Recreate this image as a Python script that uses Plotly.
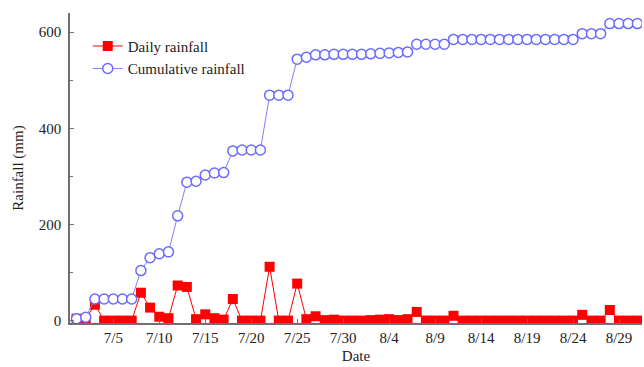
import pandas as pd
import plotly.graph_objects as go

# Dates 7/1 .. 8/31
dates = pd.date_range("2013-07-01", "2013-08-31", freq="D")

daily_rainfall = [
    4, 3, 33, 0, 0, 0, 0, 58, 27, 8,
    5, 73, 70, 3, 13, 5, 2, 45, 0, 0,
    0, 112, 0, 0, 77, 3, 9, 1, 2, 0,
    0, 0, 1, 2, 3, 1, 3, 18, 0, 0,
    0, 10, 0, 0, 0, 0, 0, 0, 0, 0,
    0, 0, 0, 0, 0, 12, 0, 0, 22, 0,
    0, 0,
]

cumulative_rainfall = [
    4, 7, 45, 45, 45, 45, 45, 104, 131, 139,
    143, 218, 288, 290, 303, 307, 308, 353, 355, 355,
    355, 469, 469, 469, 544, 548, 553, 553, 554, 554,
    554, 554, 555, 556, 557, 558, 559, 575, 575, 575,
    575, 585, 585, 585, 585, 585, 585, 585, 585, 585,
    585, 585, 585, 585, 585, 597, 597, 597, 618, 618,
    618, 618,
]

tick_dates = ["2013-07-05", "2013-07-10", "2013-07-15", "2013-07-20", "2013-07-25",
              "2013-07-30", "2013-08-04", "2013-08-09", "2013-08-14", "2013-08-19",
              "2013-08-24", "2013-08-29"]
tick_labels = ["7/5", "7/10", "7/15", "7/20", "7/25", "7/30", "8/4", "8/9",
               "8/14", "8/19", "8/24", "8/29"]

FONT = "Liberation Serif"
AXIS_COLOR = "#707070"

fig = go.Figure()
fig.add_trace(go.Scatter(
    x=dates, y=daily_rainfall, mode="lines+markers", name="Daily rainfall",
    line=dict(color="#ff0000", width=1),
    marker=dict(symbol="square", size=10, color="#ff0000", line=dict(width=0)),
))
fig.add_trace(go.Scatter(
    x=dates, y=cumulative_rainfall, mode="lines+markers", name="Cumulative rainfall",
    line=dict(color="#8080ff", width=1),
    marker=dict(symbol="circle", size=10, color="white", line=dict(color="#6b6bff", width=1.5)),
))

fig.update_layout(
    width=644, height=367,
    margin=dict(l=70, r=2, t=13, b=44),
    plot_bgcolor="white", paper_bgcolor="white",
    font=dict(family=FONT, size=15, color="#222222"),
    showlegend=True,
    legend=dict(x=0.031, y=0.946, xanchor="left", yanchor="top",
                bgcolor="rgba(0,0,0,0)", font=dict(size=15, family=FONT),
                tracegroupgap=0),
)
fig.update_xaxes(
    type="date",
    range=["2013-06-30 07:00", "2013-08-31 12:00"],
    tickvals=tick_dates, ticktext=tick_labels,
    ticks="inside", ticklen=4, tickcolor=AXIS_COLOR,
    showline=True, linecolor=AXIS_COLOR, linewidth=1.5,
    showgrid=False, zeroline=False,
    title=dict(text="Date", font=dict(size=15, family=FONT), standoff=6),
    tickfont=dict(size=15, family=FONT),
)
fig.update_yaxes(
    range=[-5, 640],
    tickvals=[0, 200, 400, 600],
    ticks="inside", ticklen=4, tickcolor=AXIS_COLOR,
    minor=dict(tickvals=[100, 300, 500], ticks="inside", ticklen=3, tickcolor=AXIS_COLOR),
    showline=True, linecolor=AXIS_COLOR, linewidth=1.5,
    showgrid=False, zeroline=False,
    title=dict(text="Rainfall (mm)", font=dict(size=15, family=FONT), standoff=12),
    tickfont=dict(size=15, family=FONT),
    ticklabelstandoff=4,
)

fig.write_html(
    "out.html",
    config={"displayModeBar": False},
    post_script="document.body.style.margin='0';document.body.style.overflow='hidden';",
)
